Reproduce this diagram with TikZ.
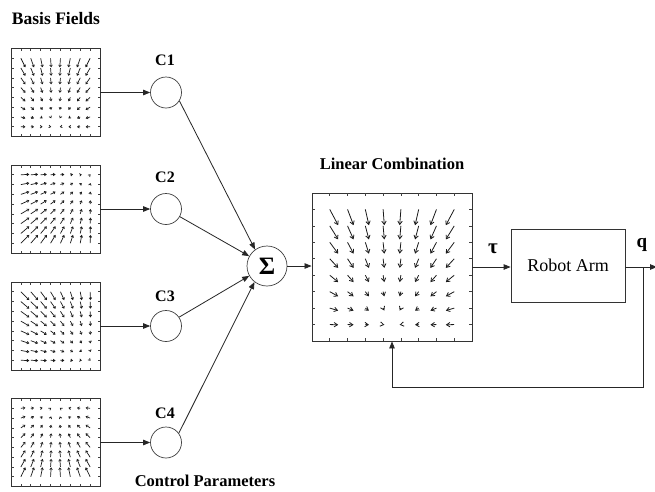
\documentclass[tikz,border=0pt]{standalone}
\usepackage{fontspec}
\setmainfont{Liberation Serif}
\usetikzlibrary{arrows.meta}

% Quiver plot inside a framed box: 8x8 grid of vectors pointing toward a
% target point (given as fractions of the box), with axis ticks on the frame.
% #1,#2 top-left corner, #3 width, #4 height, #5,#6 target fractions,
% #7 vector scale, #8 vector style, #9 tick length
\newcommand{\quiverfield}[9]{%
  \foreach \i in {1,...,8}{
    \foreach \j in {1,...,8}{
      \pgfmathsetmacro{\px}{#1+\i*#3/9}
      \pgfmathsetmacro{\py}{#2+\j*#4/9}
      \pgfmathsetmacro{\dx}{#7*(#1+#5*#3-\px)}
      \pgfmathsetmacro{\dy}{#7*(#2+#6*#4-\py)}
      \draw[#8] (\px,\py) -- ++(\dx,\dy);
    }
  }
  \foreach \k in {1,...,8}{
    \pgfmathsetmacro{\tx}{#1+\k*#3/9}
    \pgfmathsetmacro{\ty}{#2+\k*#4/9}
    \draw[axtick] (\tx,#2) -- ++(0,#9);
    \draw[axtick] (\tx,#2+#4) -- ++(0,-#9);
    \draw[axtick] (#1,\ty) -- ++(#9,0);
    \draw[axtick] (#1+#3,\ty) -- ++(-#9,0);
  }
}

\begin{document}
\begin{tikzpicture}[x=1pt,y=-1pt,
  fieldbox/.style={draw=black!80, line width=0.9pt, minimum width=89pt, minimum height=88pt, inner sep=0pt},
  cnode/.style={circle, draw=black!75, line width=0.7pt, minimum size=31pt, inner sep=0pt},
  sumnode/.style={circle, draw=black!75, line width=0.7pt, minimum size=40pt, inner sep=0pt},
  conn/.style={draw=black!85, line width=0.8pt, -{Triangle[length=7pt,width=5.5pt]}},
  vecsmall/.style={black!90, line width=0.7pt, -{Straight Barb[length=1.8pt,width=2.6pt]}},
  veclarge/.style={black!90, line width=0.8pt, -{Straight Barb[length=3.4pt,width=4.4pt]}},
  axtick/.style={black!75, line width=0.6pt},
  title/.style={font=\fontsize{17.5}{20}\selectfont\bfseries},
  clabel/.style={font=\fontsize{16}{18}\selectfont\bfseries},
]
\fill[white] (0,0) rectangle (655,491);
\useasboundingbox (0,0) rectangle (655,491);

% basis fields
\node[fieldbox] (f1) at (55.5,92.5) {};
\node[fieldbox] (f2) at (55.5,209) {};
\node[fieldbox] (f3) at (55.5,326) {};
\node[fieldbox] (f4) at (55.5,442.5) {};
\quiverfield{11}{48.5}{89}{88}{0.5}{0.9}{0.13}{vecsmall}{2.5}
\quiverfield{11}{165}{89}{88}{0.93}{0.07}{0.115}{vecsmall}{2.5}
\quiverfield{11}{282}{89}{88}{0.93}{0.93}{0.115}{vecsmall}{2.5}
\quiverfield{11}{398.5}{89}{88}{0.5}{0.07}{0.13}{vecsmall}{2.5}

\node[title] (basis) at (56,19) {Basis Fields};

% control parameters
\node[cnode] (c1) at (166,92.5) {};
\node[cnode] (c2) at (166,209) {};
\node[cnode] (c3) at (166,326) {};
\node[cnode] (c4) at (166,442.5) {};
\node[clabel] (l1) at (165,60) {C1};
\node[clabel] (l2) at (165,177) {C2};
\node[clabel] (l3) at (165,296) {C3};
\node[clabel] (l4) at (165,413) {C4};
\node[title, font=\fontsize{16.5}{20}\selectfont\bfseries] (ctrl) at (205,481) {Control Parameters};

% summation
\node[sumnode] (sig) at (267,266) {\fontsize{25}{25}\selectfont\bfseries Σ};

% linear combination field
\node[draw=black!80, line width=0.9pt, minimum width=160pt, minimum height=148pt, inner sep=0pt] (lin) at (392,267) {};
\quiverfield{312}{193}{160}{148}{0.5}{0.9}{0.135}{veclarge}{3}
\node[title, font=\fontsize{16.5}{20}\selectfont\bfseries] (lintitle) at (392,164) {Linear Combination};

% plant
\node[draw=black!80, line width=0.8pt, minimum width=114pt, minimum height=73pt, inner sep=0pt,
      font=\fontsize{18}{20}\selectfont] (robot) at (568,265.5) {Robot Arm};
\node[font=\fontsize{21}{22}\selectfont\bfseries] (tau) at (493,249) {τ};
\node[font=\fontsize{19}{20}\selectfont\bfseries] (q) at (642,245) {q};

\coordinate (j) at (643,267);
\coordinate (out) at (657,267);
\coordinate (fby) at (0,387);

% connectors
\draw[conn] (f1.east) -- (c1.west);
\draw[conn] (f2.east) -- (c2.west);
\draw[conn] (f3.east) -- (c3.west);
\draw[conn] (f4.east) -- (c4.west);
\draw[conn] (c1.-32) -- (sig.126);
\draw[conn] (c2.-29) -- (sig.151);
\draw[conn] (c3.34) -- (sig.-151);
\draw[conn] (c4.36) -- (sig.-128);
\draw[conn] (sig.east) -- (sig.east -| lin.west);
\draw[conn] (lin.east) -- (lin.east -| robot.west);
\draw[conn] (lin.east -| robot.east) -- (out);
\draw[conn] (j) |- (lin.south |- fby) -- (lin.south);
\end{tikzpicture}
\end{document}
